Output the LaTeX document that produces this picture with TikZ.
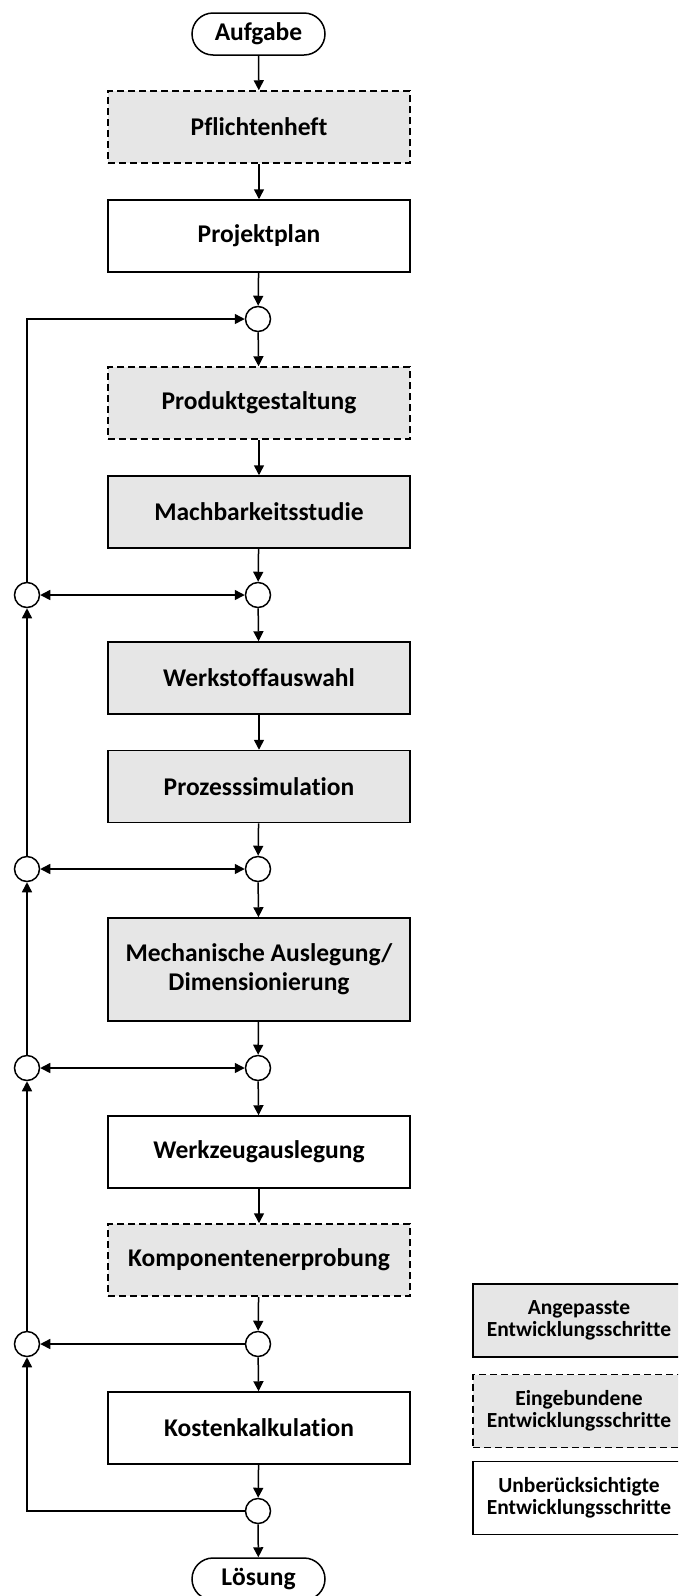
\documentclass[tikz,border=0pt]{standalone}
\usepackage{fontspec}
\setmainfont{Carlito}[Ligatures=NoCommon]
\usetikzlibrary{arrows.meta}
\definecolor{stepgray}{RGB}{230,230,230}
\begin{document}
\begin{tikzpicture}[x=1pt,y=-1pt,
  stepbox/.style={draw, line width=1.5pt, minimum width=302pt, minimum height=72pt,
    font=\bfseries\fontsize{25.5}{29}\selectfont, align=center, inner sep=0pt},
  adapted/.style={stepbox, fill=stepgray},
  embedded/.style={stepbox, fill=stepgray, dash pattern=on 7pt off 4pt},
  plainstep/.style={stepbox, fill=white},
  terminal/.style={draw, line width=1.5pt, rounded corners=21pt, minimum width=133pt,
    minimum height=42pt, font=\bfseries\fontsize{25.5}{29}\selectfont, inner sep=0pt},
  junction/.style={circle, draw, line width=1.5pt, fill=white, minimum size=25pt, inner sep=0pt},
  legendbox/.style={draw, line width=1.5pt, minimum width=212pt, minimum height=73pt,
    font=\bfseries\fontsize{21.5}{22}\selectfont, align=center, inner sep=0pt},
  flow/.style={-{Triangle[length=10pt,width=10pt]}, line width=1.5pt},
  biflow/.style={{Triangle[length=10pt,width=10pt]}-{Triangle[length=10pt,width=10pt]}, line width=1.5pt}
]
\useasboundingbox (0,0) rectangle (678,1596);
\clip (0,0) rectangle (678,1596);

% main chain of development steps
\node[terminal]  (aufgabe)  at (258.5,34)  {Aufgabe};
\node[embedded]  (pflicht)  at (259,127)   {Pflichtenheft};
\node[plainstep] (projekt)  at (259,236)   {Projektplan};
\node[junction]  (j1)       at (258,319)   {};
\node[embedded]  (produkt)  at (259,403)   {Produktgestaltung};
\node[adapted]   (machbar)  at (259,512)   {Machbarkeitsstudie};
\node[junction]  (j2)       at (258,595)   {};
\node[adapted]   (werkstoff) at (259,678)  {Werkstoffauswahl};
\node[adapted]   (prozess)  at (259,786.5) {Prozesssimulation};
\node[junction]  (j3)       at (258,869)   {};
\node[adapted, minimum height=103pt] (mech) at (259,969.5) {Mechanische Auslegung/\\Dimensionierung};
\node[junction]  (j4)       at (258,1068)  {};
\node[plainstep] (werkzeug) at (259,1152)  {Werkzeugauslegung};
\node[embedded]  (kompo)    at (259,1260)  {Komponentenerprobung};
\node[junction]  (j5)       at (258,1344)  {};
\node[plainstep] (kosten)   at (259,1428)  {Kostenkalkulation};
\node[junction]  (j6)       at (258,1511)  {};
\node[terminal]  (loesung)  at (258.5,1579) {Lösung};

% feedback junctions on the left
\node[junction] (l2) at (27,595)  {};
\node[junction] (l3) at (27,869)  {};
\node[junction] (l4) at (27,1068) {};
\node[junction] (l5) at (27,1344) {};

% legend
\node[legendbox, fill=stepgray] (leg1) at (579,1320.5) {Angepasste\\Entwicklungsschritte};
\node[legendbox, fill=stepgray, dash pattern=on 7pt off 4pt] (leg2) at (579,1411) {Eingebundene\\Entwicklungsschritte};
\node[legendbox, fill=white] (leg3) at (579,1498) {Unberücksichtigte\\Entwicklungsschritte};

% forward flow
\draw[flow] (aufgabe) -- (pflicht);
\draw[flow] (pflicht) -- (projekt);
\draw[flow] (projekt) -- (j1);
\draw[flow] (j1) -- (produkt);
\draw[flow] (produkt) -- (machbar);
\draw[flow] (machbar) -- (j2);
\draw[flow] (j2) -- (werkstoff);
\draw[flow] (werkstoff) -- (prozess);
\draw[flow] (prozess) -- (j3);
\draw[flow] (j3) -- (mech);
\draw[flow] (mech) -- (j4);
\draw[flow] (j4) -- (werkzeug);
\draw[flow] (werkzeug) -- (kompo);
\draw[flow] (kompo) -- (j5);
\draw[flow] (j5) -- (kosten);
\draw[flow] (kosten) -- (j6);
\draw[flow] (j6) -- (loesung);

% iteration loops
\draw[biflow] (l2) -- (j2);
\draw[biflow] (l3) -- (j3);
\draw[biflow] (l4) -- (j4);
\draw[flow] (j5) -- (l5);
\draw[flow] (j6.west) -| (l5.south);
\draw[flow] (l5) -- (l4);
\draw[flow] (l4) -- (l3);
\draw[flow] (l3) -- (l2);
\draw[flow] (l2.north) |- (j1.west);
\end{tikzpicture}
\end{document}
